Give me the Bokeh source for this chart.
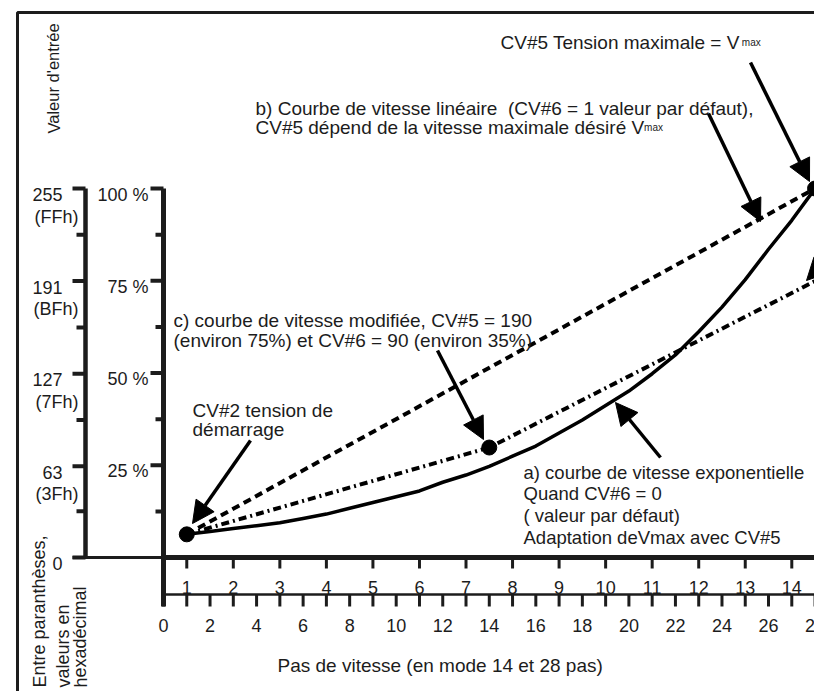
from bokeh.plotting import figure
from bokeh.models import Range1d, Arrow, NormalHead
from bokeh.embed import file_html
from bokeh.resources import INLINE
from bokeh.core.properties import value

# ---------------- data ----------------
# x = speed step on the 28-step scale, y = input value (0..255)
lower_ticks = [0, 1, 2, 3, 4, 5, 6, 7, 8, 9, 10, 11, 12, 13, 14, 15, 16, 17, 18, 19,
               20, 21, 22, 23, 24, 25, 26, 27, 28]
lower_label_pos = [0, 2, 4, 6, 8, 10, 12, 14, 16, 18, 20, 22, 24, 26, 28]
lower_labels = ["0", "2", "4", "6", "8", "10", "12", "14", "16", "18", "20", "22", "24", "26", "28"]
upper_pos = [1, 3, 5, 7, 9, 11, 13, 15, 17, 19, 21, 23, 25, 27]
upper_labels = ["1", "2", "3", "4", "5", "6", "7", "8", "9", "10", "11", "12", "13", "14"]

hex_ticks = [0, 63, 127, 191, 255]
hex_labels = ["0", "63", "127", "191", "255"]
hex_sub = ["", "(3Fh)", "(7Fh)", "(BFh)", "(FFh)"]
hex_minor = [32, 95, 159, 223]
pct_ticks = [25, 50, 75, 100]
pct_labels = ["25 %", "50 %", "75 %", "100 %"]
pct_minor = [12.5, 37.5, 62.5, 87.5]

linear_x = [1, 28]
linear_y = [16, 255]
modified_x = [1, 14, 28]
modified_y = [16, 76, 191]
expo_x = [1, 2, 3, 4, 5, 6, 7, 8, 9, 10, 11, 12, 13, 14, 15, 16, 17, 18, 19, 20,
          21, 22, 23, 24, 25, 26, 27, 28]
expo_y = [16, 18, 20, 22, 24, 27, 30, 34, 38, 42, 46, 52, 57, 63, 70, 77, 86, 95, 105, 115,
          127, 140, 156, 173, 192, 213, 233, 255]
dots_x = [1, 14, 28]
dots_y = [16, 76, 255]

# ---------------- layout helpers (reference pixel -> data) ----------------
PX0, PXS = 163.0, 23.27          # page x of step 0, px per step
PY0, PYS = 557.0, 369.0 / 255.0  # page y of value 0, px per unit


def X(px):
    return (px - PX0) / PXS


def Y(py):
    return (PY0 - py) / PYS


W, H = 814, 691
FONT = "Liberation Sans"
FS = 19
INK = "#1c1c1c"

p = figure(width=W, height=H, output_backend="svg", toolbar_location=None,
           x_range=Range1d(X(0), X(W)), y_range=Range1d(Y(H), Y(0)),
           x_axis_location=None, y_axis_location=None, min_border=0,
           outline_line_color=None, background_fill_color="white",
           border_fill_color="white")
p.grid.visible = False


def txt(px, py, s, size=FS, align="left", baseline="alphabetic", angle=0.0):
    p.text(x=[X(px)], y=[Y(py)], text=[s], text_font=value(FONT),
           text_font_size=f"{size}px", text_align=align, text_baseline=baseline,
           angle=angle, text_color=INK)


# outer frame (left and top borders)
p.line(x=[X(17), X(17), X(840)], y=[Y(720), Y(12), Y(12)], line_width=3, line_color=INK)

# ---------- hexadecimal input axis ----------
p.segment(x0=[X(85)], y0=[0], x1=[X(85)], y1=[255], line_width=4.5, line_color=INK)
p.segment(x0=[X(72)] * len(hex_ticks), y0=hex_ticks, x1=[X(85)] * len(hex_ticks), y1=hex_ticks,
          line_width=4, line_color=INK)
p.segment(x0=[X(76)] * len(hex_minor), y0=hex_minor, x1=[X(85)] * len(hex_minor), y1=hex_minor,
          line_width=4, line_color=INK)
p.text(x=[X(62)] * len(hex_ticks), y=[t - 6 / PYS for t in hex_ticks], text=hex_labels,
       text_font=value(FONT), text_font_size="18px", text_align="right",
       text_baseline="alphabetic", text_color=INK)
p.text(x=[X(78)] * len(hex_ticks), y=[t - 28 / PYS for t in hex_ticks], text=hex_sub,
       text_font=value(FONT), text_font_size="18px", text_align="right",
       text_baseline="alphabetic", text_color=INK)

# ---------- percent axis ----------
pct_vals = [255 * v / 100 for v in pct_ticks]
pct_minor_vals = [255 * v / 100 for v in pct_minor]
p.segment(x0=[0], y0=[Y(606)], x1=[0], y1=[255], line_width=5, line_color=INK)
p.segment(x0=[X(150)] * len(pct_vals), y0=pct_vals, x1=[0] * len(pct_vals), y1=pct_vals,
          line_width=4, line_color=INK)
p.segment(x0=[X(155)] * len(pct_minor_vals), y0=pct_minor_vals, x1=[0] * len(pct_minor_vals),
          y1=pct_minor_vals, line_width=4, line_color=INK)
p.text(x=[X(148)] * len(pct_vals), y=[v - 6 / PYS for v in pct_vals], text=pct_labels,
       text_font=value(FONT), text_font_size="18px", text_align="right",
       text_baseline="alphabetic", text_color=INK)

# ---------- baseline and step scales ----------
p.segment(x0=[X(72)], y0=[0], x1=[0], y1=[0], line_width=3, line_color=INK)
p.segment(x0=[0], y0=[0], x1=[X(840)], y1=[0], line_width=5, line_color=INK)
p.segment(x0=upper_pos, y0=[Y(559)] * len(upper_pos), x1=upper_pos, y1=[Y(568)] * len(upper_pos),
          line_width=3, line_color=INK)
p.text(x=upper_pos, y=[Y(587)] * len(upper_pos), text=upper_labels, text_font=value(FONT),
       text_font_size="18px", text_align="center", text_baseline="alphabetic", text_color=INK)
p.segment(x0=[0], y0=[Y(594)], x1=[X(840)], y1=[Y(594)], line_width=2.5, line_color=INK)
p.segment(x0=lower_ticks, y0=[Y(594)] * len(lower_ticks), x1=lower_ticks,
          y1=[Y(606)] * len(lower_ticks), line_width=3, line_color=INK)
p.text(x=lower_label_pos, y=[Y(625)] * len(lower_label_pos), text=lower_labels,
       text_font=value(FONT), text_font_size="18px", text_align="center",
       text_baseline="alphabetic", text_color=INK)

# ---------- curves ----------
p.line(x=expo_x, y=expo_y, line_width=3.5, line_color="black", line_join="round")
p.line(x=linear_x, y=linear_y, line_width=4, line_color="black", line_dash="8 5")
p.line(x=modified_x, y=modified_y, line_width=4, line_color="black", line_dash="8 4 2 4")
p.scatter(x=dots_x, y=dots_y, size=15, fill_color="black", line_color="black")

# ---------- arrows (tail -> tip, reference pixels) ----------
arrows = [((750, 62), (809, 181)),
          ((708, 113), (760, 221)),
          ((437, 350), (483, 439)),
          ((250, 440), (192, 523)),
          ((660, 457), (615, 402)),
          ((840, 245), (806, 280))]
for (tx, ty), (hx, hy) in arrows:
    p.add_layout(Arrow(end=NormalHead(size=22, fill_color="black", line_color="black"),
                       x_start=X(tx), y_start=Y(ty), x_end=X(hx), y_end=Y(hy),
                       line_width=3.5, line_color="black"))

# ---------- texts ----------
txt(53, 133, "Valeur d'entrée", size=16.5, angle=1.5708)
txt(39, 687, "Entre paranthèses,", size=18, angle=1.5708)
txt(63, 687, "valeurs en", size=18, angle=1.5708)
txt(80, 687, "hexadécimal", size=18, angle=1.5708)

txt(500, 42, "CV#5 Tension maximale = V")
txt(500 + 12.70 * FS, 42, "max", size=10)

txt(255, 108, "b) Courbe de vitesse linéaire\u00a0 (CV#6 = 1 valeur par défaut),")
txt(255, 127, "CV#5 dépend de la vitesse maximale désiré V")
txt(255 + 20.45 * FS, 127, "max", size=10)

txt(173, 320, "c) courbe de vitesse modifiée, CV#5 = 190")
txt(173, 340, "(environ 75%) et CV#6 = 90 (environ 35%)")

txt(192, 410, "CV#2 tension de")
txt(192, 429, "démarrage")

txt(523, 472, "a) courbe de vitesse exponentielle", size=18.5)
txt(523, 493, "Quand CV#6 = 0", size=18.5)
txt(523, 515, "( valeur par défaut)", size=18.5)
txt(523, 537, "Adaptation deVmax avec CV#5", size=18.5)

txt(277, 665, "Pas de vitesse (en mode 14 et 28 pas)")

open("out.html", "w").write(file_html(p, INLINE))
